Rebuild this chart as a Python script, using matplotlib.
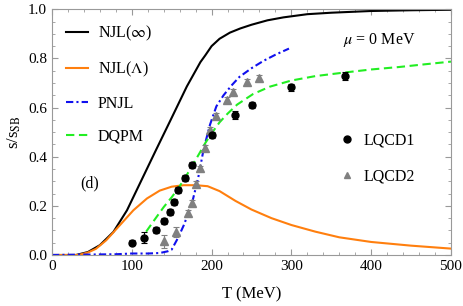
import matplotlib
matplotlib.use("Agg")
import matplotlib.pyplot as plt
from matplotlib.lines import Line2D
from matplotlib.ticker import MultipleLocator

plt.rcParams["font.family"] = ["Liberation Serif", "DejaVu Serif"]
plt.rcParams["mathtext.fontset"] = "stix"

# NJL(inf)
njl_inf_T = [0, 30, 45, 60, 77, 94, 110, 130, 148, 169, 180, 186, 192, 200, 210,
             223, 236, 250, 270, 290, 320, 350, 400, 450, 500]
njl_inf_s = [0, 0, 0.012, 0.04, 0.094, 0.182, 0.29, 0.425, 0.545, 0.686, 0.75, 0.785,
             0.812, 0.85, 0.88, 0.905, 0.922, 0.937, 0.955, 0.967, 0.98, 0.986, 0.993,
             0.996, 0.998]

# NJL(Lambda)
njl_lam_T = [0, 33, 45, 55, 68, 85, 102, 119, 135, 150, 165, 180, 195, 210, 230, 250,
             275, 300, 330, 360, 400, 450, 500]
njl_lam_s = [0, 0, 0.01, 0.025, 0.06, 0.121, 0.182, 0.23, 0.262, 0.278, 0.284, 0.284,
             0.28, 0.26, 0.22, 0.185, 0.15, 0.122, 0.095, 0.072, 0.053, 0.038, 0.026]

# PNJL
pnjl_T = [0, 80, 100, 120, 135, 145, 150, 158, 165, 175, 183, 190, 198, 206, 215, 225,
          235, 250, 265, 280, 297]
pnjl_s = [0, 0.003, 0.006, 0.006, 0.008, 0.015, 0.022, 0.07, 0.12, 0.205, 0.31, 0.43,
          0.53, 0.605, 0.65, 0.69, 0.725, 0.76, 0.79, 0.815, 0.84]

# DQPM
dqpm_T = [118, 130, 140, 150, 158, 167, 176, 185, 192, 200, 210, 220, 232, 252, 273,
          300, 330, 365, 400, 435, 470, 500]
dqpm_s = [0.095, 0.15, 0.195, 0.235, 0.27, 0.315, 0.365, 0.415, 0.455, 0.495, 0.54,
          0.575, 0.612, 0.655, 0.685, 0.71, 0.728, 0.742, 0.755, 0.765, 0.777, 0.787]

# lattice data
lqcd1_T = [100, 115, 130, 140, 148, 153, 158, 167, 176, 200, 229, 251, 300, 367]
lqcd1_s = [0.05, 0.07, 0.10, 0.137, 0.176, 0.215, 0.264, 0.314, 0.367, 0.49, 0.569,
           0.61, 0.682, 0.728]
lqcd1_err = [0.01, 0.022, 0.012, 0.012, 0.012, 0.012, 0.012, 0.012, 0.012, 0.012,
             0.015, 0.012, 0.015, 0.015]

lqcd2_T = [140, 155, 170, 175, 180, 186, 192, 198, 206, 219, 227, 244, 259]
lqcd2_s = [0.055, 0.093, 0.172, 0.213, 0.29, 0.352, 0.435, 0.509, 0.567, 0.632, 0.663,
           0.706, 0.72]
lqcd2_err = [0.025, 0.02, 0.012, 0.012, 0.012, 0.012, 0.012, 0.012, 0.012, 0.012,
             0.012, 0.012, 0.012]

black = "#000000"
orange = "#ff7f0e"
blue = "#1010ee"
green = "#22ee22"
gray = "#808080"

fig = plt.figure(figsize=(4.63, 3.06), dpi=100)
ax = fig.add_axes([0.1123, 0.1667, 0.8617, 0.803])

ax.plot(njl_inf_T, njl_inf_s, color=black, lw=1.5)
ax.plot(njl_lam_T, njl_lam_s, color=orange, lw=1.5)
ax.plot(pnjl_T, pnjl_s, color=blue, lw=1.5, dashes=(3.5, 1.5, 1, 1.5))
ax.plot(dqpm_T, dqpm_s, color=green, lw=1.5, dashes=(4, 2.2))

ax.errorbar(lqcd2_T, lqcd2_s, yerr=lqcd2_err, fmt="^", color=gray, ms=5.5,
            capsize=2, elinewidth=0.8, capthick=0.8)
ax.errorbar(lqcd1_T, lqcd1_s, yerr=lqcd1_err, fmt="o", color=black, ms=5,
            capsize=2, elinewidth=0.8, capthick=0.8)

ax.set_xlim(0, 500)
ax.set_ylim(0, 1.0)
ax.xaxis.set_major_locator(MultipleLocator(100))
ax.xaxis.set_minor_locator(MultipleLocator(20))
ax.yaxis.set_major_locator(MultipleLocator(0.2))
ax.yaxis.set_minor_locator(MultipleLocator(0.05))
ax.yaxis.set_major_formatter(plt.FuncFormatter(lambda v, p: f"{v:.1f}"))

frame = "#999999"
for sp in ax.spines.values():
    sp.set_color(frame)
    sp.set_linewidth(0.8)
ax.tick_params(which="both", direction="in", top=True, right=True, color=frame,
               labelsize=11, labelcolor="black")
ax.tick_params(which="major", length=4)
ax.tick_params(which="minor", length=2)

ax.set_xlabel("T (MeV)", fontsize=12, labelpad=10)
ax.set_ylabel(r"s/s$_{\mathrm{SB}}$", fontsize=12, labelpad=4)

leg1 = ax.legend(
    [Line2D([], [], color=black, lw=1.5),
     Line2D([], [], color=orange, lw=1.5),
     Line2D([], [], color=blue, lw=1.5, dashes=(3.5, 1.5, 1, 1.5)),
     Line2D([], [], color=green, lw=1.5, dashes=(4, 2.2))],
    [r"NJL($\infty$)", r"NJL($\Lambda$)", "PNJL", "DQPM"],
    loc="upper left", bbox_to_anchor=(0.035, 0.94), frameon=False, fontsize=11.5,
    handlelength=1.4, handletextpad=0.6, labelspacing=1.05, borderpad=0,
    borderaxespad=0)
ax.add_artist(leg1)

ax.legend(
    [Line2D([], [], ls="none", marker="o", color=black, ms=5),
     Line2D([], [], ls="none", marker="^", color=gray, ms=5)],
    ["LQCD1", "LQCD2"],
    loc="upper left", bbox_to_anchor=(0.72, 0.5), frameon=False, fontsize=11.5,
    handlelength=1.0, handletextpad=0.5, labelspacing=1.3, borderpad=0,
    borderaxespad=0)

ax.text(0.82, 0.875, r"$\mu$ = 0 MeV", transform=ax.transAxes, fontsize=11.5,
        ha="center", va="center")
ax.text(0.07, 0.29, "(d)", transform=ax.transAxes, fontsize=11.5, ha="left",
        va="center")

fig.savefig("out.png", dpi=100)
